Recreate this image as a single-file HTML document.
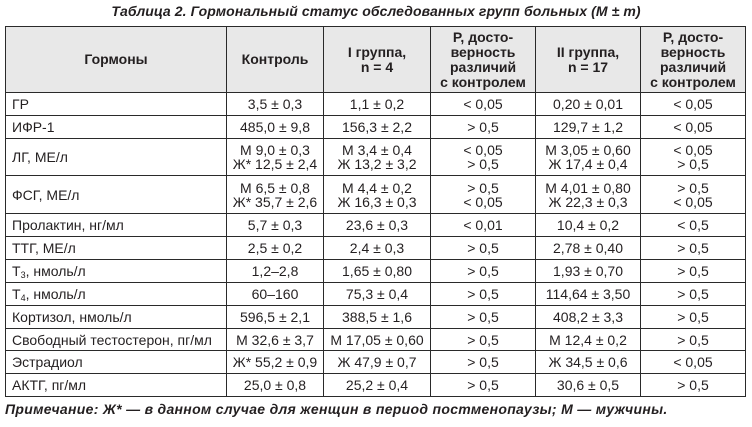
<!DOCTYPE html>
<html><head><meta charset="utf-8"><style>
body{margin:0;width:752px;height:427px;background:#fff;font-family:"Liberation Sans",Arial,sans-serif;color:#231f20;position:relative;overflow:hidden}
#title{position:absolute;left:0;width:752px;top:3px;text-align:center;font-weight:bold;font-style:italic;font-size:14px;letter-spacing:0.1px}
table{position:absolute;left:5px;top:26px;border-collapse:collapse;table-layout:fixed;font-size:14px}
td,th{border:1px solid #2a2a2a;padding:0 4px;line-height:14px;text-align:center;white-space:nowrap;overflow:hidden}
th{background:#e8e8e8;font-weight:bold;font-size:14px;line-height:15px}
td.n{text-align:left;padding-left:6px}
#note{position:absolute;left:5px;top:401px;font-weight:bold;font-style:italic;font-size:14px;letter-spacing:0.3px}
sub{font-size:9px;vertical-align:-2px;line-height:0}
</style></head><body>
<div id="title">Таблица 2. Гормональный статус обследованных групп больных (M ± m)</div>
<table>
<colgroup><col style="width:221px"><col style="width:97px"><col style="width:107px"><col style="width:105px"><col style="width:105px"><col style="width:105px"></colgroup>
<tr style="height:66px"><th>Гормоны</th><th>Контроль</th><th>I группа,<br>n = 4</th><th>P, досто-<br>верность<br>различий<br>с контролем</th><th>II группа,<br>n = 17</th><th>P, досто-<br>верность<br>различий<br>с контролем</th></tr>
<tr style="height:23px"><td class="n">ГР</td><td>3,5 ± 0,3</td><td>1,1 ± 0,2</td><td>&lt; 0,05</td><td>0,20 ± 0,01</td><td>&lt; 0,05</td></tr>
<tr style="height:23px"><td class="n">ИФР-1</td><td>485,0 ± 9,8</td><td>156,3 ± 2,2</td><td>&gt; 0,5</td><td>129,7 ± 1,2</td><td>&lt; 0,05</td></tr>
<tr style="height:37px"><td class="n">ЛГ, МЕ/л</td><td>М 9,0 ± 0,3<br>Ж* 12,5 ± 2,4</td><td>М 3,4 ± 0,4<br>Ж 13,2 ± 3,2</td><td>&lt; 0,05<br>&gt; 0,5</td><td>М 3,05 ± 0,60<br>Ж 17,4 ± 0,4</td><td>&lt; 0,05<br>&gt; 0,5</td></tr>
<tr style="height:38px"><td class="n">ФСГ, МЕ/л</td><td>М 6,5 ± 0,8<br>Ж* 35,7 ± 2,6</td><td>М 4,4 ± 0,2<br>Ж 16,3 ± 0,3</td><td>&gt; 0,5<br>&lt; 0,05</td><td>М 4,01 ± 0,80<br>Ж 22,3 ± 0,3</td><td>&gt; 0,5<br>&lt; 0,05</td></tr>
<tr style="height:23px"><td class="n">Пролактин, нг/мл</td><td>5,7 ± 0,3</td><td>23,6 ± 0,3</td><td>&lt; 0,01</td><td>10,4 ± 0,2</td><td>&lt; 0,5</td></tr>
<tr style="height:23px"><td class="n">ТТГ, МЕ/л</td><td>2,5 ± 0,2</td><td>2,4 ± 0,3</td><td>&gt; 0,5</td><td>2,78 ± 0,40</td><td>&gt; 0,5</td></tr>
<tr style="height:23px"><td class="n">Т<sub>3</sub>, нмоль/л</td><td>1,2–2,8</td><td>1,65 ± 0,80</td><td>&gt; 0,5</td><td>1,93 ± 0,70</td><td>&gt; 0,5</td></tr>
<tr style="height:23px"><td class="n">Т<sub>4</sub>, нмоль/л</td><td>60–160</td><td>75,3 ± 0,4</td><td>&gt; 0,5</td><td>114,64 ± 3,50</td><td>&gt; 0,5</td></tr>
<tr style="height:23px"><td class="n">Кортизол, нмоль/л</td><td>596,5 ± 2,1</td><td>388,5 ± 1,6</td><td>&gt; 0,5</td><td>408,2 ± 3,3</td><td>&gt; 0,5</td></tr>
<tr style="height:22px"><td class="n">Свободный тестостерон, пг/мл</td><td>М 32,6 ± 3,7</td><td>М 17,05 ± 0,60</td><td>&gt; 0,5</td><td>М 12,4 ± 0,2</td><td>&gt; 0,5</td></tr>
<tr style="height:23px"><td class="n">Эстрадиол</td><td>Ж* 55,2 ± 0,9</td><td>Ж 47,9 ± 0,7</td><td>&gt; 0,5</td><td>Ж 34,5 ± 0,6</td><td>&lt; 0,05</td></tr>
<tr style="height:23px"><td class="n">АКТГ, пг/мл</td><td>25,0 ± 0,8</td><td>25,2 ± 0,4</td><td>&gt; 0,5</td><td>30,6 ± 0,5</td><td>&gt; 0,5</td></tr>
</table>
<div id="note">Примечание: Ж* — в данном случае для женщин в период постменопаузы; М — мужчины.</div>
</body></html>
